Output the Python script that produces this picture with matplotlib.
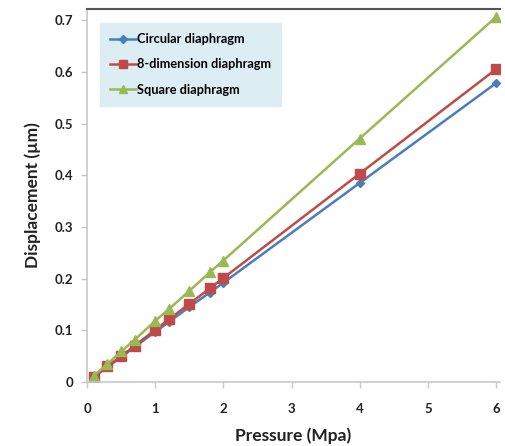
import matplotlib

matplotlib.use("Agg")
import matplotlib.pyplot as plt

pressure = [0.1, 0.3, 0.5, 0.7, 1.0, 1.2, 1.5, 1.8, 2.0, 4.0, 6.0]
circular = [0.010, 0.029, 0.048, 0.068, 0.097, 0.116, 0.145, 0.173, 0.192, 0.385, 0.578]
eight_dim = [0.010, 0.030, 0.050, 0.070, 0.101, 0.121, 0.151, 0.181, 0.201, 0.403, 0.605]
square = [0.012, 0.035, 0.059, 0.082, 0.118, 0.141, 0.176, 0.212, 0.235, 0.471, 0.706]

x_ticks = [0, 1, 2, 3, 4, 5, 6]
y_ticks = [0, 0.1, 0.2, 0.3, 0.4, 0.5, 0.6, 0.7]
y_labels = ["0", "0.1", "0.2", "0.3", "0.4", "0.5", "0.6", "0.7"]

plt.rcParams["font.family"] = ["Lato", "DejaVu Sans"]

fig = plt.figure(figsize=(5.05, 4.46), dpi=100)
ax = fig.add_axes([0.1723, 0.1435, 0.818, 0.8363])

ax.plot(pressure, circular, color="#4a7ebb", marker="D", markersize=4.5, lw=1.8,
        label="Circular diaphragm")
ax.plot(pressure, eight_dim, color="#be4b48", marker="s", markersize=7, lw=1.8,
        label="8-dimension diaphragm")
ax.plot(pressure, square, color="#98b954", marker="^", markersize=7, lw=1.8,
        label="Square diaphragm")

ax.set_xlim(0, 6.06)
ax.set_ylim(0, 0.7215)
ax.set_xticks(x_ticks)
ax.set_yticks(y_ticks)
ax.set_yticklabels(y_labels)
ax.tick_params(length=4, width=1, color="#c8c8c8", labelsize=9.5, labelcolor="#222222")
ax.tick_params(axis="x", pad=11)
ax.tick_params(axis="y", pad=6)
for lab in ax.get_xticklabels() + ax.get_yticklabels():
    lab.set_fontweight("bold")

ax.spines["left"].set_color("#c8c8c8")
ax.spines["bottom"].set_color("#c8c8c8")
ax.spines["left"].set_linewidth(1.2)
ax.spines["bottom"].set_linewidth(1.2)
ax.spines["right"].set_visible(False)
ax.spines["top"].set_color("#555555")
ax.spines["top"].set_linewidth(1.5)

ax.set_xlabel("Pressure (Mpa)", fontsize=12.5, fontweight="bold", color="#222222", labelpad=9)
ax.set_ylabel("Displacement (\u00b5m)", fontsize=12.5, fontweight="bold", color="#222222", labelpad=10)

leg = ax.legend(loc="upper left", bbox_to_anchor=(0.016, 0.98), frameon=True, fancybox=False,
                fontsize=9.2, handlelength=2.0, handletextpad=0.1, borderpad=0.8,
                labelspacing=1.05, markerscale=0.8)
leg.get_frame().set_facecolor("#dcedf4")
leg.get_frame().set_edgecolor("#dcedf4")
leg.get_frame().set_alpha(1)
for t in leg.get_texts():
    t.set_fontweight("bold")

fig.savefig("out.png", dpi=100)
